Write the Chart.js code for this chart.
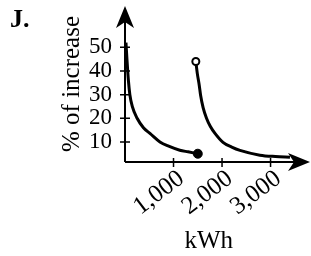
<!DOCTYPE html>
<html>
<head>
<meta charset="utf-8">
<script src="https://cdn.jsdelivr.net/npm/chart.js@4/dist/chart.umd.min.js"></script>
<style>
  body { margin: 0; background: #fff; }
  .wrap { position: relative; width: 311px; height: 256px; }
  .lettre { position: absolute; left: 10px; top: 6px; font: bold 26px/26px "Liberation Serif", serif; color: #000; }
</style>
</head>
<body>
<div class="wrap">
  <canvas id="graphique"></canvas>
  <div class="lettre">J.</div>
</div>
<script>
// Courbe de gauche (point plein à la fin)
const courbe1X = [20, 40, 70, 100, 150, 250, 380, 520, 720, 900, 1130, 1300, 1500];
const courbe1Y = [52, 45, 36, 30, 25, 20, 16, 13.5, 10, 8.2, 6.5, 5.8, 5.0];
// Courbe de droite (point vide au début)
const courbe2X = [1460, 1490, 1530, 1560, 1610, 1680, 1760, 1855, 2020, 2200, 2370, 2780, 3100, 3400];
const courbe2Y = [44, 39, 34, 29.5, 24.5, 20, 16.5, 13.6, 9.8, 7.8, 6.4, 4.4, 3.8, 3.5];

const ticksX = [1000, 2000, 3000];
const labelsX = ["1,000", "2,000", "3,000"];
const ticksY = [10, 20, 30, 40, 50];

const police = "'Liberation Serif', 'Times New Roman', serif";

function points(xs, ys) {
  const res = [];
  for (let i = 0; i < xs.length; i++) {
    res.push({ x: xs[i], y: ys[i] });
  }
  return res;
}

// pas de marges automatiques autour de la zone du graphique
function sansMarges(scale) {
  scale.paddingTop = 0;
  scale.paddingBottom = 0;
  scale.paddingLeft = 0;
  scale.paddingRight = 0;
}

// Axes avec flèches et graduations qui traversent l'axe
const axesFleches = {
  id: "axesFleches",
  beforeDatasetsDraw(chart) {
    const ctx = chart.ctx;
    const a = chart.chartArea;
    const sx = chart.scales.x;
    const sy = chart.scales.y;
    const bout = a.right + 5; // pointe de la flèche horizontale
    ctx.save();
    ctx.strokeStyle = "#000";
    ctx.fillStyle = "#000";
    ctx.lineWidth = 2;
    ctx.beginPath();
    ctx.moveTo(a.left, a.bottom);
    ctx.lineTo(a.left, a.top + 12);
    ctx.moveTo(a.left, a.bottom);
    ctx.lineTo(bout - 12, a.bottom);
    ctx.stroke();

    ctx.lineWidth = 1.5;
    ctx.beginPath();
    for (const t of sy.ticks) {
      const y = sy.getPixelForValue(t.value);
      ctx.moveTo(a.left - 5, y);
      ctx.lineTo(a.left + 5, y);
    }
    for (const t of sx.ticks) {
      const x = sx.getPixelForValue(t.value);
      ctx.moveTo(x, a.bottom - 4);
      ctx.lineTo(x, a.bottom + 5);
    }
    ctx.stroke();

    // flèche verticale
    ctx.beginPath();
    ctx.moveTo(a.left, a.top);
    ctx.lineTo(a.left - 9, a.top + 22);
    ctx.lineTo(a.left, a.top + 16);
    ctx.lineTo(a.left + 9, a.top + 22);
    ctx.closePath();
    ctx.fill();
    // flèche horizontale
    ctx.beginPath();
    ctx.moveTo(bout, a.bottom);
    ctx.lineTo(bout - 22, a.bottom - 9);
    ctx.lineTo(bout - 16, a.bottom);
    ctx.lineTo(bout - 22, a.bottom + 9);
    ctx.closePath();
    ctx.fill();
    ctx.restore();
  }
};

const data = {
  datasets: [
    {
      data: points(courbe1X, courbe1Y),
      borderColor: "#000",
      borderWidth: 3,
      showLine: true,
      cubicInterpolationMode: "monotone",
      pointRadius: courbe1X.map((v, i) => (i === courbe1X.length - 1 ? 4.5 : 0)),
      pointBackgroundColor: "#000",
      pointBorderColor: "#000",
      pointBorderWidth: 1,
    },
    {
      data: points(courbe2X, courbe2Y),
      borderColor: "#000",
      borderWidth: 3,
      showLine: true,
      cubicInterpolationMode: "monotone",
      pointRadius: courbe2X.map((v, i) => (i === 0 ? 3.5 : 0)),
      pointBackgroundColor: "#fff",
      pointBorderColor: "#000",
      pointBorderWidth: 2,
    },
  ],
};

const config = {
  type: "scatter",
  data: data,
  options: {
    responsive: true,
    maintainAspectRatio: false,
    animation: false,
    events: [],
    clip: false,
    layout: { padding: { left: 55, top: 4, right: 0, bottom: 0 } },
    plugins: { legend: { display: false }, tooltip: { enabled: false } },
    scales: {
      x: {
        type: "linear",
        min: 0,
        max: 3710,
        grid: { display: false, drawTicks: false },
        border: { display: false },
        afterBuildTicks: (scale) => {
          scale.ticks = ticksX.map((v) => ({ value: v }));
        },
        afterFit: (scale) => {
          scale.height = 94;
          sansMarges(scale);
        },
        ticks: {
          autoSkip: false,
          minRotation: 37,
          maxRotation: 37,
          padding: 2,
          labelOffset: 8,
          color: "#000",
          font: { family: police, size: 25 },
          callback: (value) => labelsX[ticksX.indexOf(value)],
        },
        title: {
          display: true,
          text: "kWh  ",
          color: "#000",
          font: { family: police, size: 25 },
          padding: { top: 0, bottom: 0 },
        },
      },
      y: {
        type: "linear",
        min: 1.5,
        max: 67.5,
        grid: { display: false, drawTicks: false },
        border: { display: false },
        afterBuildTicks: (scale) => {
          scale.ticks = ticksY.map((v) => ({ value: v }));
        },
        afterFit: (scale) => {
          scale.width = 70;
          sansMarges(scale);
        },
        ticks: {
          padding: 13,
          color: "#000",
          font: { family: police, size: 23 },
        },
        title: {
          display: true,
          text: "% of increase",
          color: "#000",
          font: { family: police, size: 25 },
          padding: { top: 2, bottom: 0 },
        },
      },
    },
  },
  plugins: [axesFleches],
};

new Chart(document.querySelector("#graphique"), config);
</script>
</body>
</html>
